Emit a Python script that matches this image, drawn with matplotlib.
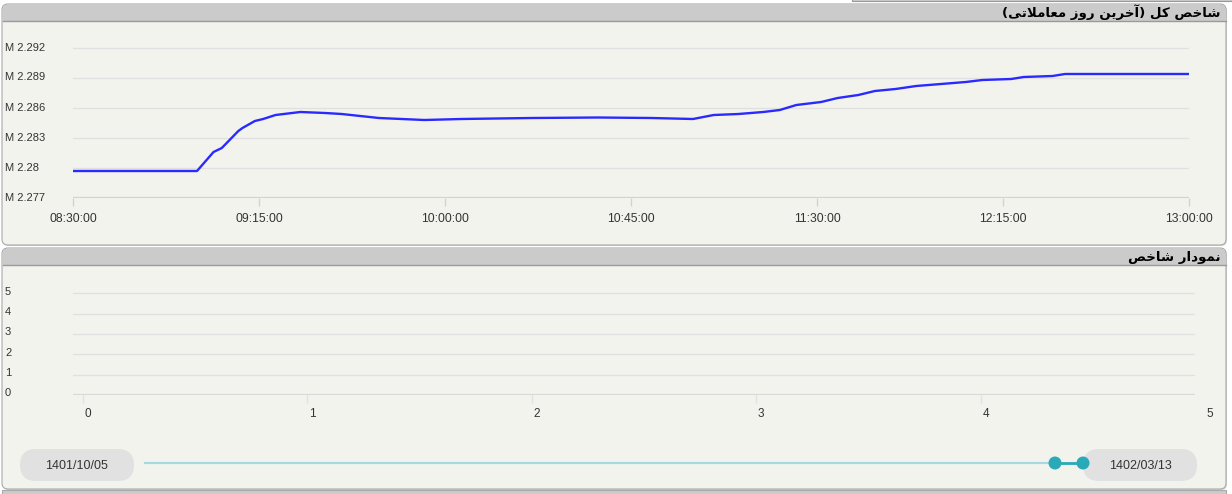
import matplotlib
matplotlib.use('Agg')
import matplotlib.pyplot as plt
import matplotlib.transforms as mtransforms
from matplotlib.patches import FancyBboxPatch, Rectangle, Circle

# --- data ---
times = ["08:30", "09:00", "09:04", "09:06", "09:10", "09:11", "09:14", "09:16",
         "09:19", "09:21", "09:25", "09:31", "09:35", "09:44", "09:55", "10:04",
         "10:21", "10:37", "10:50", "11:00", "11:05", "11:11", "11:17", "11:21",
         "11:25", "11:31", "11:35", "11:40", "11:44", "11:49", "11:54", "12:00",
         "12:06", "12:10", "12:17", "12:20", "12:27", "12:30", "13:00"]
index_m = [2.2797, 2.2797, 2.2816, 2.2820, 2.2837, 2.2840, 2.2847, 2.2849,
           2.2853, 2.2854, 2.2856, 2.2855, 2.2854, 2.2850, 2.2848, 2.2849,
           2.2850, 2.28505, 2.2850, 2.2849, 2.2853, 2.2854, 2.2856, 2.2858,
           2.2863, 2.2866, 2.2870, 2.2873, 2.2877, 2.2879, 2.2882, 2.2884,
           2.2886, 2.2888, 2.2889, 2.2891, 2.2892, 2.2894, 2.2894]
x_ticks = ["08:30:00", "09:15:00", "10:00:00", "10:45:00", "11:30:00", "12:15:00", "13:00:00"]
y_ticks = [2.277, 2.28, 2.283, 2.286, 2.289, 2.292]
y_labels = ["M 2.277", "M 2.28", "M 2.283", "M 2.286", "M 2.289", "M 2.292"]
empty_ticks = [0, 1, 2, 3, 4, 5]
date_from = "1401/10/05"
date_to = "1402/03/13"
title_top = "شاخص کل (آخرین روز معاملاتی)"
title_bottom = "نمودار شاخص"

# --- tiny arabic shaper (matplotlib has no bidi / shaping) ---
FORMS = {
    '\u0627': ('\uFE8D', '\uFE8E', None, None),
    '\u0622': ('\uFE81', '\uFE82', None, None),
    '\u062A': ('\uFE95', '\uFE96', '\uFE97', '\uFE98'),
    '\u062E': ('\uFEA5', '\uFEA6', '\uFEA7', '\uFEA8'),
    '\u062F': ('\uFEA9', '\uFEAA', None, None),
    '\u0631': ('\uFEAD', '\uFEAE', None, None),
    '\u0632': ('\uFEAF', '\uFEB0', None, None),
    '\u0634': ('\uFEB5', '\uFEB6', '\uFEB7', '\uFEB8'),
    '\u0635': ('\uFEB9', '\uFEBA', '\uFEBB', '\uFEBC'),
    '\u0639': ('\uFEC9', '\uFECA', '\uFECB', '\uFECC'),
    '\u0644': ('\uFEDD', '\uFEDE', '\uFEDF', '\uFEE0'),
    '\u0645': ('\uFEE1', '\uFEE2', '\uFEE3', '\uFEE4'),
    '\u0646': ('\uFEE5', '\uFEE6', '\uFEE7', '\uFEE8'),
    '\u0648': ('\uFEED', '\uFEEE', None, None),
    '\u06A9': ('\uFB8E', '\uFB8F', '\uFB90', '\uFB91'),
    '\u06CC': ('\uFBFC', '\uFBFD', '\uFBFE', '\uFBFF'),
    '\uFEFB': ('\uFEFB', '\uFEFC', None, None),
}


def shape(s):
    s = s.replace('\u0644\u0627', '\uFEFB')
    out = []
    for i, c in enumerate(s):
        if c not in FORMS:
            out.append(c)
            continue
        f = FORMS[c]
        prev = s[i - 1] if i > 0 else ''
        nxt = s[i + 1] if i + 1 < len(s) else ''
        jp = prev in FORMS and FORMS[prev][2] is not None
        jn = f[2] is not None and nxt in FORMS
        if jp and jn: out.append(f[3])
        elif jp: out.append(f[1])
        elif jn: out.append(f[2])
        else: out.append(f[0])
    return ''.join(reversed(out)).translate(str.maketrans('()', ')('))


def to_min(t):
    h, m = t.split(":")[:2]
    return int(h) * 60 + int(m)


W, H = 1232, 494
plt.rcParams['font.family'] = ['Liberation Sans', 'DejaVu Sans']
fig = plt.figure(figsize=(W / 100, H / 100), dpi=100, facecolor='white')

# background layer in pixel coords
bg = fig.add_axes([0, 0, 1, 1], zorder=0)
bg.set_xlim(0, W)
bg.set_ylim(H, 0)
bg.axis('off')

PANEL = '#f3f3ee'
HEAD = '#cbcbcb'
EDGE = '#a9a9a9'


def panel(y0, y1):
    bg.add_patch(FancyBboxPatch((3, y0 + 1), 1224, y1 - y0, boxstyle="round,pad=0,rounding_size=6",
                                fc='#d4d4d4', ec='none'))
    bg.add_patch(FancyBboxPatch((2, y0), 1224, y1 - y0, boxstyle="round,pad=0,rounding_size=6",
                                fc=PANEL, ec=EDGE, lw=0.8))
    bg.add_patch(FancyBboxPatch((2.5, y0 + 0.5), 1223, 16, boxstyle="round,pad=0,rounding_size=6",
                                fc=HEAD, ec='none'))
    bg.add_patch(Rectangle((2.5, y0 + 9), 1223, 8, fc=HEAD, ec='none'))
    bg.plot([2.5, 1225.5], [y0 + 17, y0 + 17], color='#9a9a9a', lw=1)


# bits of neighbouring panels
bg.add_patch(Rectangle((852, -4), 380, 5.5, fc=HEAD, ec='#999999', lw=0.8))
bg.add_patch(Rectangle((2, 490), 1224, 8, fc=HEAD, ec=EDGE, lw=0.8))

panel(4, 245)
panel(248, 489)

bg.text(1221, 12.5, shape(title_top), ha='right', va='center', fontsize=9.6,
        family='DejaVu Sans', fontweight='bold', color='black')
bg.text(1221, 257, shape(title_bottom), ha='right', va='center', fontsize=9.6,
        family='DejaVu Sans', fontweight='bold', color='black')

# --- top chart ---
ax = fig.add_axes([73 / W, 1 - 198 / H, 1116 / W, 165 / H], zorder=1)
ax.patch.set_alpha(0)
tx = [to_min(t) for t in times]
ax.plot(tx, index_m, color='#2a2aff', lw=1.7, solid_joinstyle='round', solid_capstyle='round')
ax.set_xlim(to_min("08:30"), to_min("13:00"))
ax.set_ylim(2.277, 2.2935)
for v in y_ticks[1:]:
    ax.axhline(v, color='#e0e0e0', lw=1, zorder=0)
for s in ax.spines.values():
    s.set_visible(False)
ax.axhline(2.277, color='#d2d2d2', lw=1.6, zorder=0)
ax.set_yticks([])
ax.set_xticks([to_min(t) for t in x_ticks])
ax.set_xticklabels(x_ticks, fontsize=8.7, color='#333333')
ax.tick_params(axis='x', length=6, width=1, color='#d2d2d2', pad=5)
trans = mtransforms.blended_transform_factory(fig.transFigure, ax.transData)
for v, lab in zip(y_ticks, y_labels):
    ax.text(5 / W, v + 0.00005, lab, transform=trans, ha='left', va='center',
            fontsize=8, color='#333333')

# --- empty bottom chart ---
ax2 = fig.add_axes([73 / W, 1 - 395 / H, 1122 / W, 112 / H], zorder=1)
ax2.patch.set_alpha(0)
ax2.set_xlim(-10 / 224.5, 4.9555)
ax2.set_ylim(0, 5.5)
for v in empty_ticks[1:]:
    ax2.axhline(v, color='#e0e0e0', lw=1, zorder=0)
ax2.axhline(0, color='#d8d8d8', lw=1.6, zorder=0)
for s in ax2.spines.values():
    s.set_visible(False)
ax2.set_yticks([])
ax2.set_xticks(empty_ticks[:5])
ax2.set_xticklabels([])
ax2.tick_params(axis='x', length=6, width=1, color='#e0e0e0')
trans2 = mtransforms.blended_transform_factory(fig.transFigure, ax2.transData)
for v in empty_ticks:
    ax2.text(5 / W, v + 0.08, str(v), transform=trans2, ha='left', va='center',
             fontsize=8, color='#333333')
trans3 = mtransforms.blended_transform_factory(ax2.transData, fig.transFigure)
for v in empty_ticks:
    t = ax2.text(v, 1 - 414 / H, str(v), transform=trans3, ha='center', va='center',
                 fontsize=8.5, color='#333333', clip_on=False)
    t.set_transform(trans3 + mtransforms.ScaledTranslation(5 / 100, 0, fig.dpi_scale_trans))

# --- range slider ---
for x0, lab in [(20, date_from), (1083, date_to)]:
    bg.add_patch(FancyBboxPatch((x0, 449), 114, 32, boxstyle="round,pad=0,rounding_size=16",
                                fc='#e1e1e1', ec='none', zorder=2))
    bg.text(x0 + 57, 465.5, lab, ha='center', va='center', fontsize=9, color='#333333', zorder=3)
bg.plot([145, 1055], [463, 463], color='#a7d8dd', lw=1.6, zorder=2)
bg.plot([1055, 1083], [463, 463], color='#2aa9b9', lw=2, zorder=3)
for cx in [1055, 1083]:
    bg.add_patch(Circle((cx, 463), 6.5, fc='#2aa9b9', ec='none', zorder=4))

fig.savefig("out.png", dpi=100, facecolor='white')
